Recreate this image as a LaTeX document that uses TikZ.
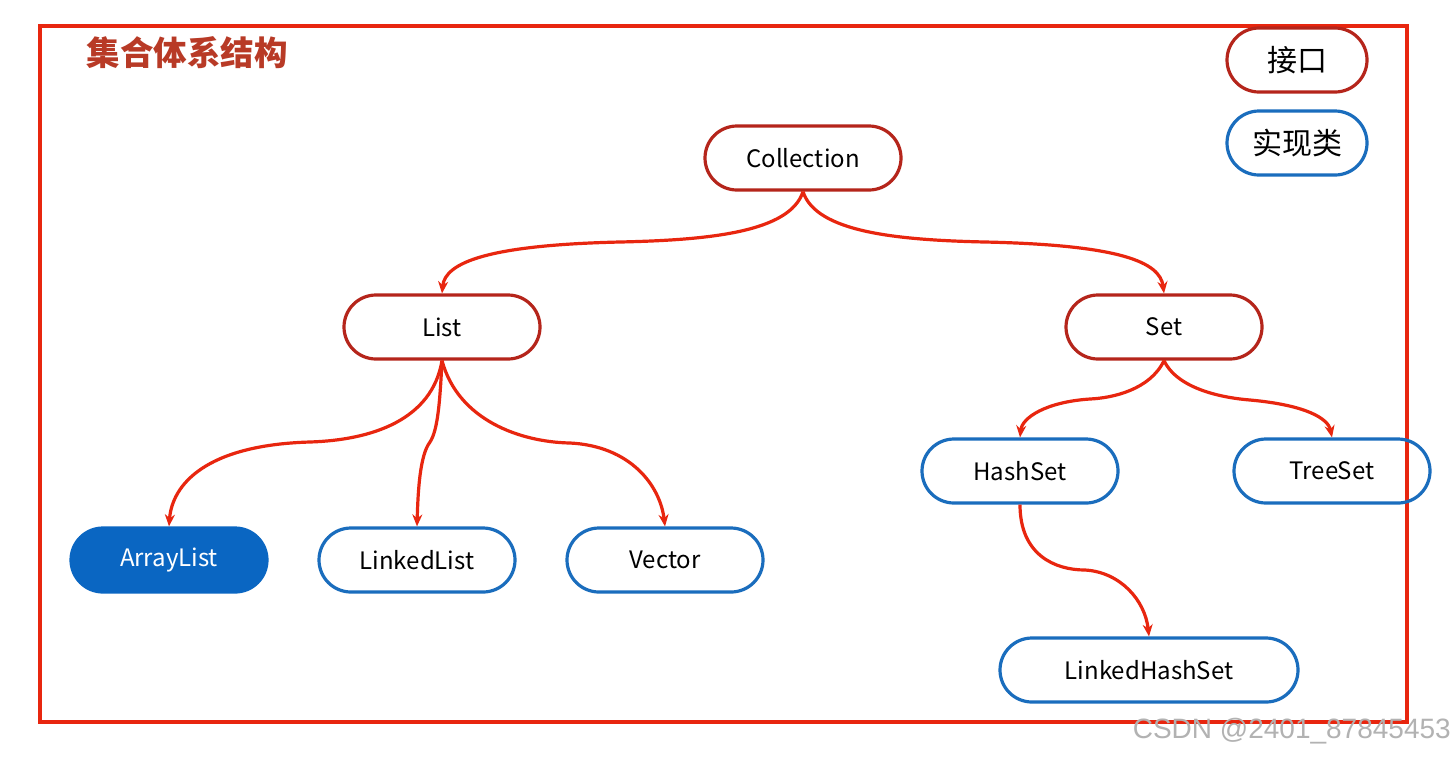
\documentclass[tikz,border=0pt]{standalone}
\usepackage{fontspec}
\setmainfont{Noto Sans CJK SC}
\newfontfamily\wmfont{Liberation Sans}
\usetikzlibrary{arrows.meta,shapes.misc}
\definecolor{frameRed}{HTML}{E8260F}
\definecolor{ifaceRed}{HTML}{B5251B}
\definecolor{titleRed}{HTML}{B83A26}
\definecolor{implBlue}{HTML}{1A6DBD}
\definecolor{fillBlue}{HTML}{0A66C2}
\definecolor{arrowRed}{HTML}{E8260F}
\begin{document}
\begin{tikzpicture}[x=1pt,y=-1pt,
  pill/.style={rounded rectangle, minimum width=196pt, minimum height=64pt, line width=3.2pt, inner sep=0pt, font=\fontsize{24}{28}\selectfont},
  iface/.style={pill, draw=ifaceRed},
  impl/.style={pill, draw=implBlue},
  legendbox/.style={rounded rectangle, minimum width=140pt, minimum height=64pt, line width=3.2pt, inner sep=0pt, font=\fontsize{30}{34}\selectfont},
  link/.style={draw=arrowRed, line width=3.2pt, -{Stealth[length=12pt,width=10pt]}}
]
\useasboundingbox (0,0) rectangle (1453,756);
\fill[white] (0,0) rectangle (1453,756);
\draw[frameRed, line width=3.2pt] (40,26) rectangle (1407,722);
\node[anchor=west, text=titleRed, font=\fontsize{33.5}{38}\selectfont\bfseries] (title) at (83,53) {集合体系结构};

\node[legendbox, draw=ifaceRed] (lgi) at (1297,60) {接口};
\node[legendbox, draw=implBlue] (lgc) at (1297,143) {实现类};

\node[iface] (coll) at (803,158) {Collection};
\node[iface] (list) at (442,327) {List};
\node[iface] (set) at (1164,327) {Set};
\node[impl] (hs) at (1020,471) {HashSet};
\node[impl] (ts) at (1332,471) {TreeSet};
\node[pill, fill=fillBlue, draw=fillBlue, text=white] (al) at (169,560) {ArrayList};
\node[impl] (ll) at (417,560) {LinkedList};
\node[impl] (vec) at (665,560) {Vector};
\node[impl, minimum width=298pt] (lhs) at (1149,670) {LinkedHashSet};

\draw[link] (coll.south) .. controls (790,232) and (710,240) .. (620,242) .. controls (490,245) and (445,262) .. (list.north);
\draw[link] (coll.south) .. controls (816,232) and (896,240) .. (985,242) .. controls (1120,245) and (1160,262) .. (set.north);
\draw[link] (list.south) .. controls (432,420) and (372,440) .. (310,442) .. controls (205,445) and (172,485) .. (al.north);
\draw[link] (list.south) .. controls (440,400) and (438,430) .. (430,442) .. controls (420,455) and (418,490) .. (ll.north);
\draw[link] (list.south) .. controls (458,420) and (520,442) .. (570,443) .. controls (630,446) and (660,485) .. (vec.north);
\draw[link] (set.south) .. controls (1150,390) and (1112,398) .. (1090,399) .. controls (1045,402) and (1022,418) .. (hs.north);
\draw[link] (set.south) .. controls (1178,390) and (1225,398) .. (1250,400) .. controls (1305,405) and (1328,418) .. (ts.north);
\draw[link] (hs.south) .. controls (1020,555) and (1055,570) .. (1085,570) .. controls (1120,572) and (1145,600) .. (lhs.north);

\node[anchor=east, text=black!30, font=\wmfont\fontsize{28}{30}\selectfont, inner sep=0pt] (wm) at (1451,731) {CSDN @2401\_87845453};
\end{tikzpicture}
\end{document}
